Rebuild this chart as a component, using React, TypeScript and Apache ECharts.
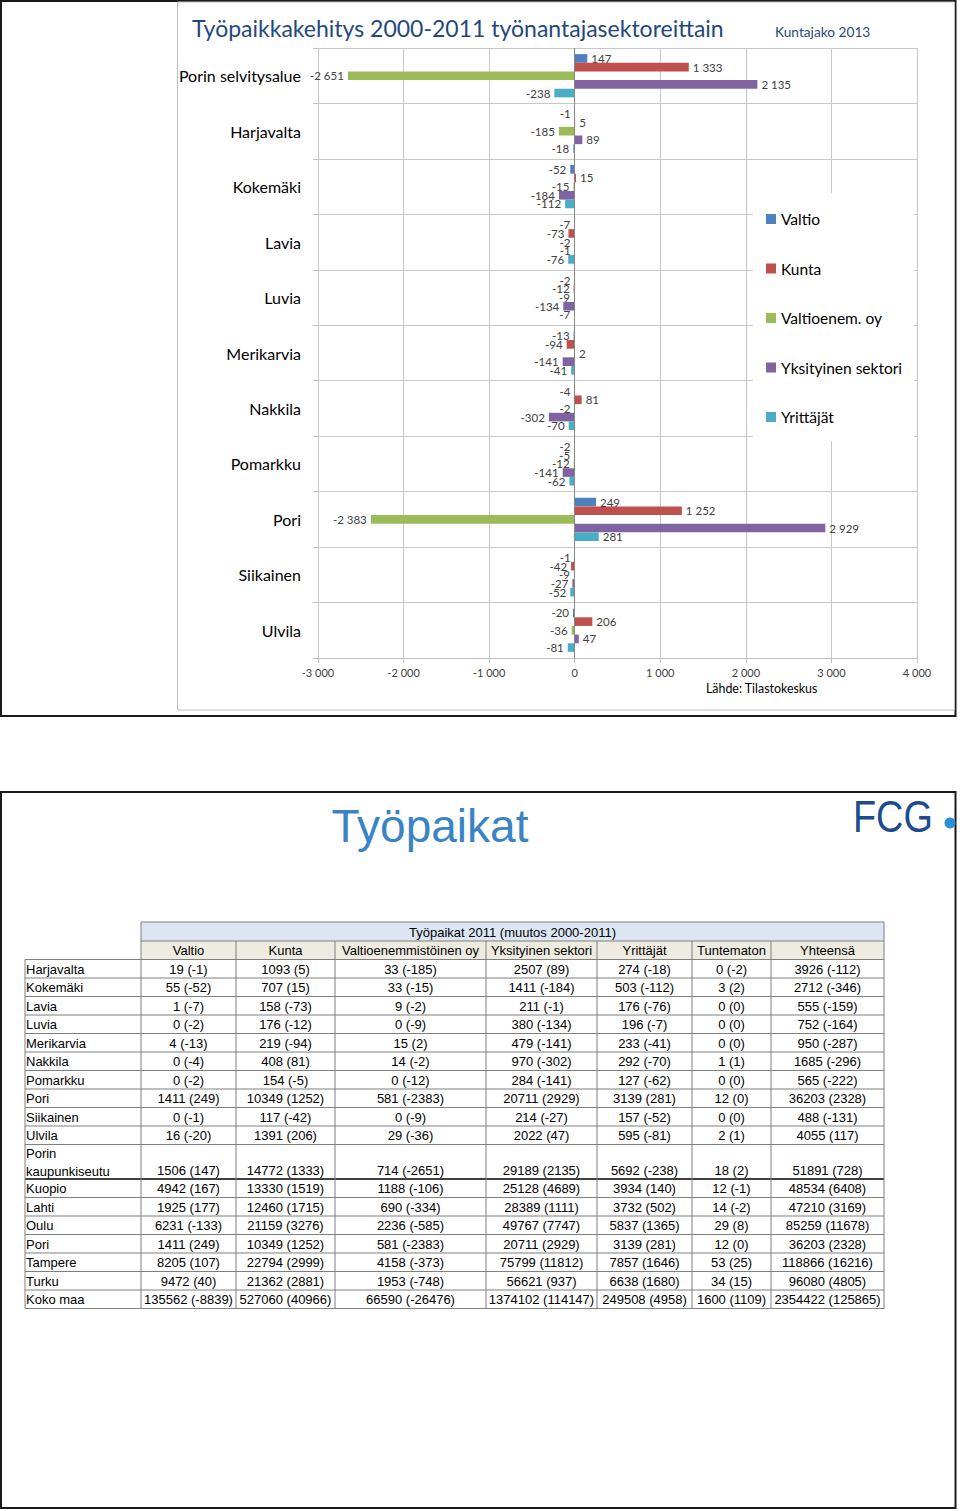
import React, { useEffect, useRef } from "react";
import * as echarts from "echarts";

// ---------- Chart data (muutos 2000-2011) ----------
const categories = [
  "Porin selvitysalue", "Harjavalta", "Kokemäki", "Lavia", "Luvia", "Merikarvia",
  "Nakkila", "Pomarkku", "Pori", "Siikainen", "Ulvila",
];
const seriesNames = ["Valtio", "Kunta", "Valtioenem. oy", "Yksityinen sektori", "Yrittäjät"];
const valtio = [147, -1, -52, -7, -2, -13, -4, -2, 249, -1, -20];
const kunta = [1333, 5, 15, -73, -12, -94, 81, -5, 1252, -42, 206];
const valtioenem = [-2651, -185, -15, -2, -9, 2, -2, -12, -2383, -9, -36];
const yksityinen = [2135, 89, -184, -1, -134, -141, -302, -141, 2929, -27, 47];
const yrittajat = [-238, -18, -112, -76, -7, -41, -70, -62, 281, -52, -81];
const xMin = -3000;
const xMax = 4000;
const xStep = 1000;

// ---------- Table data (Työpaikat 2011, muutos 2000-2011) ----------
const tableTitle = "Työpaikat 2011 (muutos 2000-2011)";
const tableColumns = ["Valtio", "Kunta", "Valtioenemmistöinen oy", "Yksityinen sektori", "Yrittäjät", "Tuntematon", "Yhteensä"];
const tableRows = [
  "Harjavalta", "Kokemäki", "Lavia", "Luvia", "Merikarvia", "Nakkila", "Pomarkku", "Pori",
  "Siikainen", "Ulvila", "Porin\nkaupunkiseutu", "Kuopio", "Lahti", "Oulu", "Pori", "Tampere", "Turku", "Koko maa",
];
const jobs2011 = [
  [19, 1093, 33, 2507, 274, 0, 3926],
  [55, 707, 33, 1411, 503, 3, 2712],
  [1, 158, 9, 211, 176, 0, 555],
  [0, 176, 0, 380, 196, 0, 752],
  [4, 219, 15, 479, 233, 0, 950],
  [0, 408, 14, 970, 292, 1, 1685],
  [0, 154, 0, 284, 127, 0, 565],
  [1411, 10349, 581, 20711, 3139, 12, 36203],
  [0, 117, 0, 214, 157, 0, 488],
  [16, 1391, 29, 2022, 595, 2, 4055],
  [1506, 14772, 714, 29189, 5692, 18, 51891],
  [4942, 13330, 1188, 25128, 3934, 12, 48534],
  [1925, 12460, 690, 28389, 3732, 14, 47210],
  [6231, 21159, 2236, 49767, 5837, 29, 85259],
  [1411, 10349, 581, 20711, 3139, 12, 36203],
  [8205, 22794, 4158, 75799, 7857, 53, 118866],
  [9472, 21362, 1953, 56621, 6638, 34, 96080],
  [135562, 527060, 66590, 1374102, 249508, 1600, 2354422],
];
const jobsChange = [
  [-1, 5, -185, 89, -18, -2, -112],
  [-52, 15, -15, -184, -112, 2, -346],
  [-7, -73, -2, -1, -76, 0, -159],
  [-2, -12, -9, -134, -7, 0, -164],
  [-13, -94, 2, -141, -41, 0, -287],
  [-4, 81, -2, -302, -70, 1, -296],
  [-2, -5, -12, -141, -62, 0, -222],
  [249, 1252, -2383, 2929, 281, 0, 2328],
  [-1, -42, -9, -27, -52, 0, -131],
  [-20, 206, -36, 47, -81, 1, 117],
  [147, 1333, -2651, 2135, -238, 2, 728],
  [167, 1519, -106, 4689, 140, -1, 6408],
  [177, 1715, -334, 1111, 502, -2, 3169],
  [-133, 3276, -585, 7747, 1365, 8, 11678],
  [249, 1252, -2383, 2929, 281, 0, 2328],
  [107, 2999, -373, 11812, 1646, 25, 16216],
  [40, 2881, -748, 937, 1680, 15, 4805],
  [-8839, 40966, -26476, 114147, 4958, 1109, 125865],
];

// ---------- Styles ----------
const colors = ["#4F81BD", "#C0504D", "#9BBB59", "#8064A2", "#4BACC6"];
const chartFont = "Lato";
const tableFont = "'Liberation Sans', Arial, sans-serif";

function fmt(n: number): string {
  const s = Math.abs(n).toString().replace(/\B(?=(\d{3})+(?!\d))/g, " ");
  return (n < 0 ? "-" : "") + s;
}

function txt(x: number, y: number, text: string, o: any = {}): any {
  return {
    type: "text",
    x,
    y,
    silent: true,
    z: o.z ?? 10,
    scaleX: o.scaleX ?? 1,
    style: {
      text,
      fontSize: o.fontSize ?? 13,
      fontFamily: o.fontFamily ?? tableFont,
      fontWeight: o.fontWeight ?? "normal",
      fill: o.fill ?? "#000",
      align: o.align ?? "left",
      verticalAlign: o.verticalAlign ?? "middle",
      textAlign: o.align ?? "left",
      textVerticalAlign: o.verticalAlign ?? "middle",
      lineHeight: o.lineHeight,
    },
  };
}

function line(x1: number, y1: number, x2: number, y2: number, stroke = "#7F7F7F", w = 1): any {
  return {
    type: "line",
    silent: true,
    z: 9,
    shape: { x1, y1, x2, y2 },
    style: { stroke, lineWidth: w },
  };
}

function buildTable(): any[] {
  const colX = [25, 141, 236, 335, 486, 597, 692, 771, 884];
  const top = 922;
  const h1 = 19;
  const h2 = 18.5;
  const rowH = 18.5;
  const dblH = 34.5;
  const els: any[] = [];
  const right = colX[colX.length - 1];
  els.push({ type: "rect", silent: true, z: 8, shape: { x: colX[1], y: top, width: right - colX[1], height: h1 }, style: { fill: "#DCE6F2" } });
  els.push({ type: "rect", silent: true, z: 8, shape: { x: colX[1], y: top + h1, width: right - colX[1], height: h2 }, style: { fill: "#EEECE1" } });
  els.push(txt((colX[1] + right) / 2, top + h1 / 2 + 0.5, tableTitle, { align: "center" }));
  tableColumns.forEach((c, i) => {
    els.push(txt((colX[i + 1] + colX[i + 2]) / 2, top + h1 + h2 / 2 + 0.5, c, { align: "center" }));
  });
  els.push(line(colX[1], top, right, top));
  els.push(line(colX[1], top + h1, right, top + h1));
  let y = top + h1 + h2;
  els.push(line(colX[0], y, right, y));
  tableRows.forEach((name, r) => {
    const h = name.includes("\n") ? dblH : rowH;
    const cy = y + h - rowH / 2 + 0.5;
    if (name.includes("\n")) {
      els.push(txt(colX[0] + 1, y + h / 2 + 0.5, name, { lineHeight: 18 }));
    } else {
      els.push(txt(colX[0] + 1, cy, name));
    }
    jobs2011[r].forEach((v, c) => {
      els.push(txt((colX[c + 1] + colX[c + 2]) / 2, cy, `${v} (${jobsChange[r][c]})`, { align: "center" }));
    });
    y += h;
    const thick = name.includes("\n");
    els.push(line(colX[0], y, right, y, thick ? "#000" : "#7F7F7F", thick ? 1.6 : 1));
  });
  const bottom = y;
  els.push(line(colX[0], top + h1 + h2, colX[0], bottom));
  els.push(line(colX[1], top, colX[1], bottom));
  for (let i = 2; i < colX.length - 1; i++) els.push(line(colX[i], top + h1, colX[i], bottom));
  els.push(line(right, top, right, bottom));
  return els;
}

export default function App() {
  const ref = useRef<HTMLDivElement>(null);
  useEffect(() => {
    document.body.style.margin = "0";
    const chart = echarts.init(ref.current!, null, { renderer: "svg" });
    const seriesData = [valtio, kunta, valtioenem, yksityinen, yrittajat];
    const option: any = {
      animation: false,
      backgroundColor: "#fff",
      grid: { left: 318, top: 48, width: 599, height: 610, containLabel: false, outerBoundsMode: "none" },
      xAxis: {
        type: "value",
        min: xMin,
        max: xMax,
        interval: xStep,
        axisLine: { show: true, lineStyle: { color: "#BFBFBF" } },
        axisTick: { show: true, length: 5, lineStyle: { color: "#BFBFBF" } },
        axisLabel: { fontSize: 11, fontFamily: chartFont, color: "#404040", margin: 9, formatter: (v: number) => fmt(v) },
        splitLine: { show: true, lineStyle: { color: "#C8C8C8", width: 1 } },
      },
      yAxis: {
        type: "category",
        inverse: true,
        data: categories,
        axisLine: { show: false, onZero: false },
        axisTick: { show: true, length: 5, lineStyle: { color: "#BFBFBF" } },
        axisLabel: { fontSize: 16, fontFamily: chartFont, color: "#000", margin: 17 },
        splitLine: { show: true, lineStyle: { color: "#C8C8C8", width: 1 } },
      },
      legend: {
        orient: "vertical",
        left: 753,
        top: 193,
        padding: [18, 12, 16, 13],
        itemWidth: 10,
        itemHeight: 10,
        itemGap: 33.5,
        icon: "rect",
        selectedMode: false,
        backgroundColor: "#fff",
        textStyle: { fontSize: 15.5, fontFamily: chartFont, color: "#000", lineHeight: 16 },
        data: seriesNames,
      },
      series: seriesData.map((arr, i) => ({
        type: "bar",
        name: seriesNames[i],
        barGap: "0%",
        barCategoryGap: "22%",
        itemStyle: { color: colors[i] },
        emphasis: { disabled: true },
        label: {
          show: true,
          fontSize: 11.5,
          fontFamily: chartFont,
          color: "#404040",
          distance: 4,
          formatter: (p: any) => fmt(p.value),
        },
        data: arr.map((v) => ({ value: v, label: { position: v < 0 ? "left" : "right" } })),
        markLine: i === 0
          ? {
              silent: true,
              symbol: ["none", "none"],
              label: { show: false },
              lineStyle: { color: "#868686", width: 1, type: "solid" },
              data: [{ xAxis: 0 }],
            }
          : undefined,
      })),
      graphic: [
        { type: "rect", silent: true, z: 1, shape: { x: 1, y: 1, width: 954.5, height: 715 }, style: { fill: "none", stroke: "#1a1a1a", lineWidth: 2 } },
        { type: "rect", silent: true, z: 1, shape: { x: 177.5, y: 2, width: 777, height: 708 }, style: { fill: "none", stroke: "#BFBFBF", lineWidth: 1 } },
        txt(192, 28, "Työpaikkakehitys 2000-2011 työnantajasektoreittain", { fontSize: 23, fontFamily: chartFont, fill: "#1F497D" }),
        txt(775, 31, "Kuntajako 2013", { fontSize: 13.7, fontFamily: chartFont, fill: "#1F497D" }),
        txt(706, 688, "Lähde: Tilastokeskus", { fontSize: 12.4, fontFamily: chartFont, fill: "#000" }),
        { type: "rect", silent: true, z: 1, shape: { x: 1, y: 792, width: 954.5, height: 716 }, style: { fill: "none", stroke: "#1a1a1a", lineWidth: 2 } },
        txt(430, 826, "Työpaikat", { fontSize: 46, fontFamily: tableFont, fill: "#3A84C5", align: "center" }),
        txt(853, 817, "FCG", { fontSize: 44, fontFamily: tableFont, fill: "#1B4C8C", scaleX: 0.86 }),
        { type: "circle", silent: true, z: 11, shape: { cx: 950, cy: 823, r: 5.5 }, style: { fill: "#2A8FD4" } },
        ...buildTable(),
      ],
    };
    chart.setOption(option);
    return () => chart.dispose();
  }, []);
  return <div ref={ref} style={{ width: 960, height: 1511 }} />;
}
